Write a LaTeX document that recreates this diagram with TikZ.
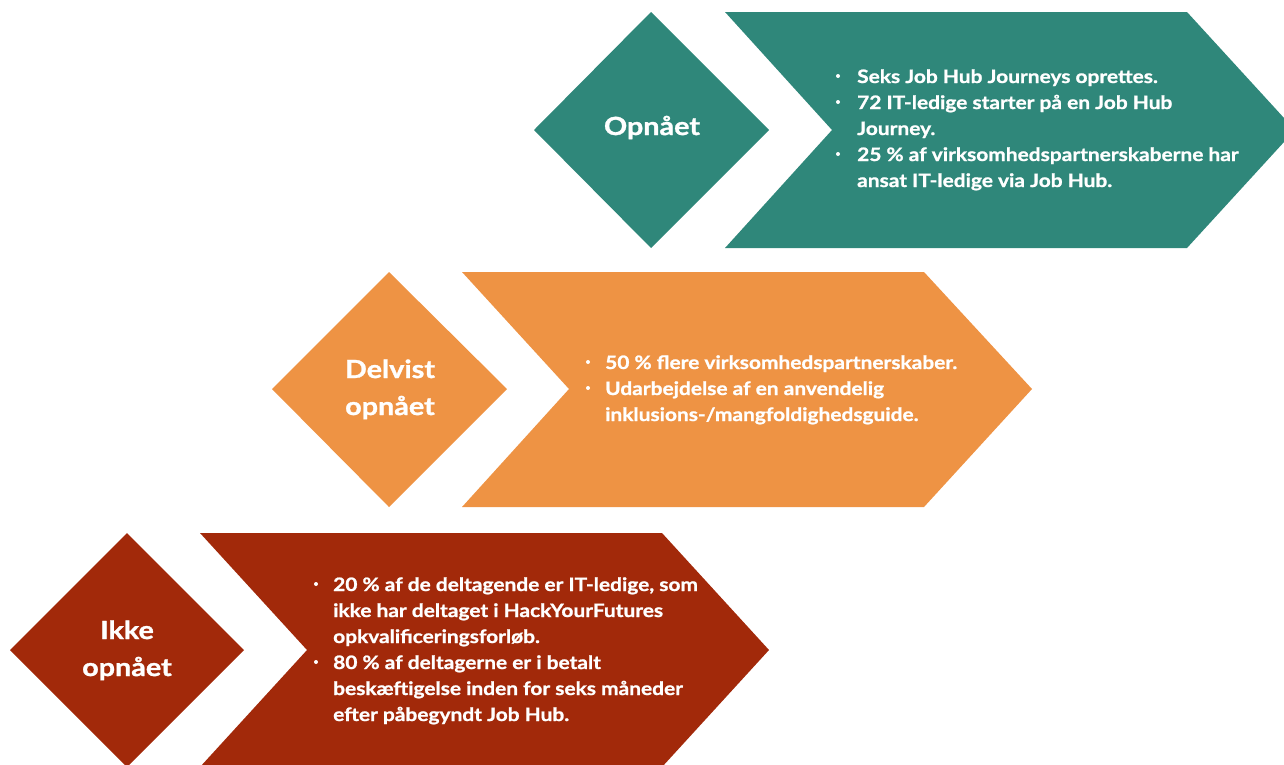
\documentclass[tikz,border=0pt]{standalone}
\usepackage{fontspec}
\setmainfont{Lato}
\newfontfamily\itemfont{Lato}[BoldFeatures={FakeStretch=1.13,FakeBold=1.1}]
\newfontfamily\statusfont{Lato}[BoldFeatures={FakeStretch=1.15,FakeBold=1.2}]
\definecolor{hubteal}{HTML}{2F877A}
\definecolor{huborange}{HTML}{EE9344}
\definecolor{hubred}{HTML}{A2290A}
\tikzset{
  status/.style={font=\statusfont\bfseries\fontsize{25}{37}\selectfont, text=white, anchor=base, inner sep=0pt},
  itemline/.style={font=\itemfont\bfseries\fontsize{18.5}{26}\selectfont, text=white, anchor=base west, inner sep=0pt},
  dot/.style={circle, fill=white, inner sep=0pt, minimum size=4pt},
}
\begin{document}
\begin{tikzpicture}[x=1pt, y=-1pt]
\useasboundingbox (0,0) rectangle (1284,764);
\begin{scope}
\clip (0,0) rectangle (1284,764);
% row 1: achieved
\fill[hubteal] (534,130) -- (651,12) -- (769,130) -- (651,248) -- cycle;
\fill[hubteal] (725,12) -- (1187,12) -- (1295,130) -- (1187,248) -- (725,248) -- (832,130) -- cycle;
% row 2: partly achieved
\fill[huborange] (272,389) -- (389,272) -- (507,389) -- (389,507) -- cycle;
\fill[huborange] (462,272) -- (924,272) -- (1032,389) -- (924,507) -- (462,507) -- (569,389) -- cycle;
% row 3: not achieved
\fill[hubred] (10,650) -- (127,533) -- (244,650) -- (127,767) -- cycle;
\fill[hubred] (200,533) -- (662,533) -- (769,650) -- (662,767) -- (200,767) -- (307,650) -- cycle;
\end{scope}

% status labels
\node[status] (s1) at (652,135) {Opnået};
\node[status] (s2a) at (390,378) {Delvist};
\node[status] (s2b) at (390,415) {opnået};
\node[status] (s3a) at (127,639) {Ikke};
\node[status] (s3b) at (127,676) {opnået};

% row 1 items
\node[dot] (b1a) at (838,76) {};
\node[itemline] (t1a) at (857,83) {Seks Job Hub Journeys oprettes.};
\node[dot] (b1b) at (838,102) {};
\node[itemline] (t1b) at (857,109) {72 IT-ledige starter på en Job Hub};
\node[itemline] (t1c) at (857,135) {Journey.};
\node[dot] (b1c) at (838,154) {};
\node[itemline] (t1d) at (857,161) {25 \% af virksomhedspartnerskaberne har};
\node[itemline] (t1e) at (857,187) {ansat IT-ledige via Job Hub.};

% row 2 items
\node[dot] (b2a) at (588,362) {};
\node[itemline] (t2a) at (605,369) {50 \% flere virksomhedspartnerskaber.};
\node[dot] (b2b) at (588,388) {};
\node[itemline] (t2b) at (605,395) {Udarbejdelse af en anvendelig};
\node[itemline] (t2c) at (605,421) {inklusions-/mangfoldighedsguide.};

% row 3 items
\node[dot] (b3a) at (316,584) {};
\node[itemline] (t3a) at (333,591) {20 \% af de deltagende er IT-ledige, som};
\node[itemline] (t3b) at (333,617) {ikke har deltaget i HackYourFutures};
\node[itemline] (t3c) at (333,643) {opkvalificeringsforløb.};
\node[dot] (b3b) at (316,662) {};
\node[itemline] (t3d) at (333,669) {80 \% af deltagerne er i betalt};
\node[itemline] (t3e) at (333,695) {beskæftigelse inden for seks måneder};
\node[itemline] (t3f) at (333,721) {efter påbegyndt Job Hub.};
\end{tikzpicture}
\end{document}
